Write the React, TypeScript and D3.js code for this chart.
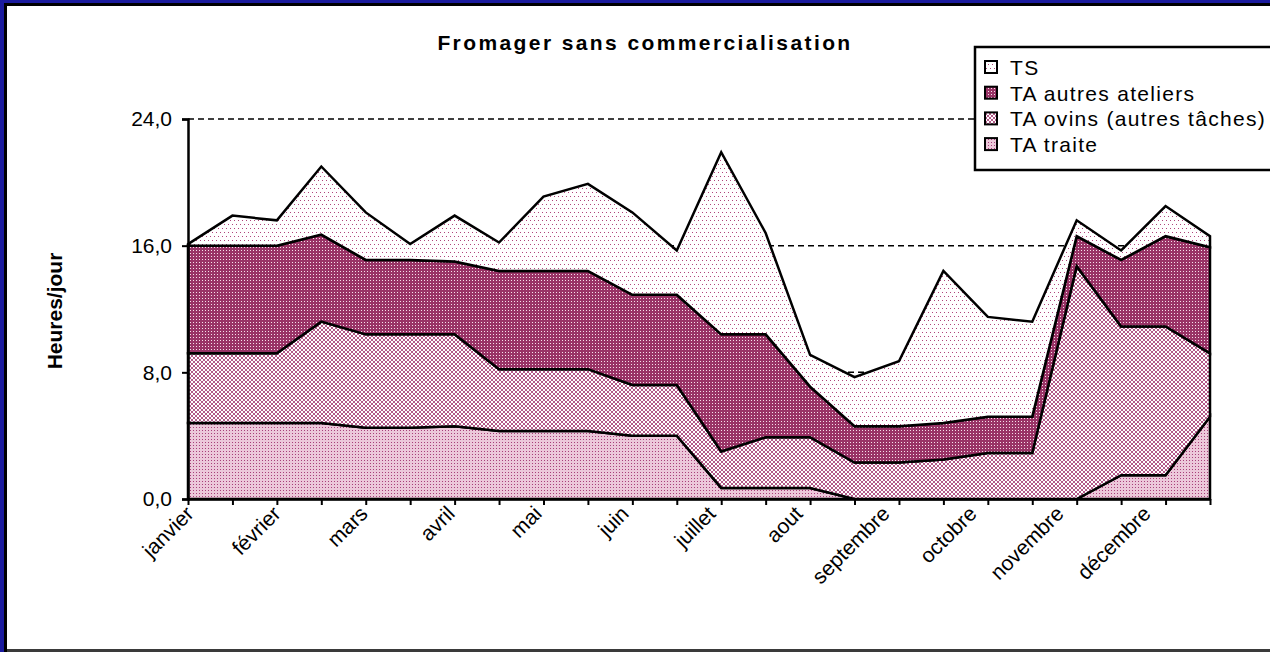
import React, { useEffect, useRef } from 'react'
import * as d3 from 'd3'

// mois affichés (un libellé tous les deux points)
const months = ['janvier', 'février', 'mars', 'avril', 'mai', 'juin', 'juillet', 'aout', 'septembre', 'octobre', 'novembre', 'décembre']
// 24 points : deux par mois
const periods = d3.range(24)

const traite = [4.8, 4.8, 4.8, 4.8, 4.5, 4.5, 4.6, 4.3, 4.3, 4.3, 4.0, 4.0, 0.7, 0.7, 0.7, 0, 0, 0, 0, 0, 0, 1.5, 1.5, 5.2]
const ovins = [4.4, 4.4, 4.4, 6.4, 5.9, 5.9, 5.8, 3.9, 3.9, 3.9, 3.2, 3.2, 2.3, 3.2, 3.2, 2.3, 2.3, 2.5, 2.9, 2.9, 14.7, 9.4, 9.4, 4.0]
const autres = [6.8, 6.8, 6.8, 5.5, 4.7, 4.7, 4.6, 6.2, 6.2, 6.2, 5.7, 5.7, 7.4, 6.5, 3.2, 2.3, 2.3, 2.3, 2.3, 2.3, 1.9, 4.2, 5.7, 6.7]
const ts = [0.1, 1.9, 1.6, 4.3, 3.0, 1.0, 2.9, 1.8, 4.7, 5.5, 5.2, 2.8, 11.5, 6.4, 2.0, 3.1, 4.1, 9.6, 6.3, 6.0, 1.0, 0.6, 1.9, 0.7]

const seriesKeys = ['traite', 'ovins', 'autres', 'ts']
const seriesNames = ['TA traite', 'TA ovins (autres tâches)', 'TA autres ateliers', 'TS']
const yTicks = [0, 8, 16, 24]
const gridTicks = [8, 16, 24]

const FONT = 'Liberation Sans, Arial, sans-serif'

export default function App() {
  const ref = useRef<SVGSVGElement>(null)

  useEffect(() => {
    const svg = d3.select(ref.current)
    svg.selectAll('*').remove()

    const W = 1270
    const H = 652

    // cadre bleu / noir
    svg.append('rect').attr('width', W).attr('height', H).attr('fill', '#1b1b9e')
    svg.append('rect').attr('x', 4).attr('y', 3).attr('width', W - 4).attr('height', H - 3).attr('fill', '#000')
    svg.append('rect').attr('x', 7).attr('y', 6).attr('width', W - 7).attr('height', H - 9).attr('fill', '#fff')
    svg.append('rect').attr('x', 7).attr('y', 649).attr('width', W - 7).attr('height', 3).attr('fill', '#3a3a3a')

    // motifs de remplissage
    const defs = svg.append('defs')
    const pat = (id, w, h, bg, dots, color) => {
      const p = defs.append('pattern').attr('id', id).attr('patternUnits', 'userSpaceOnUse')
        .attr('width', w).attr('height', h)
      p.append('rect').attr('width', w).attr('height', h).attr('fill', bg)
      dots.forEach(([dx, dy]) => {
        p.append('rect').attr('x', dx).attr('y', dy).attr('width', 1).attr('height', 1).attr('fill', color)
      })
    }
    pat('p-ts', 4, 8, '#fff', [[0, 0], [2, 4]], '#b0457c')
    pat('p-autres', 3, 3, '#993366', [[1, 1]], '#f6dfea')
    pat('p-ovins', 4, 4, '#fff', [[0, 0], [1, 1], [2, 2], [3, 3], [3, 0], [2, 1], [1, 2], [0, 3]], '#b35a89')
    pat('p-traite', 3, 3, '#ecc8da', [[1, 1]], '#a8407a')
    const fills = ['url(#p-traite)', 'url(#p-ovins)', 'url(#p-autres)', 'url(#p-ts)']

    const x = d3.scalePoint().domain(periods).range([188, 1210])
    const y = d3.scaleLinear().domain([0, 24]).range([499, 119])
    // position des libellés de mois (légèrement resserrés comme dans Excel)
    const xLab = d3.scalePoint().domain(months).range([195, 1152])

    // lignes de quadrillage pointillées
    svg.append('g').selectAll('line').data(gridTicks).enter().append('line')
      .attr('x1', 188).attr('x2', 1210)
      .attr('y1', d => y(d)).attr('y2', d => y(d))
      .attr('stroke', '#000').attr('stroke-width', 1.5).attr('stroke-dasharray', '6,4')

    // aires empilées
    const rows = periods.map(i => ({ traite: traite[i], ovins: ovins[i], autres: autres[i], ts: ts[i] }))
    const stack = d3.stack().keys(seriesKeys)(rows)
    const area = d3.area()
      .x((d, i) => x(i))
      .y0(d => y(d[0]))
      .y1(d => y(d[1]))

    svg.append('g').selectAll('path').data(stack).enter().append('path')
      .attr('d', d => area(d))
      .attr('fill', (d, i) => fills[i])
      .attr('stroke', '#000').attr('stroke-width', 2.5).attr('stroke-linejoin', 'miter')

    // axe vertical
    const yAxis = d3.axisLeft(y).tickValues(yTicks).tickSize(6).tickPadding(10)
      .tickFormat(d => d3.format('.1f')(d).replace('.', ','))
    const gy = svg.append('g').attr('transform', 'translate(188,0)').call(yAxis)
    gy.select('.domain').attr('stroke-width', 2.5)
    gy.selectAll('.tick line').attr('stroke-width', 2)
    gy.selectAll('text').attr('font-family', FONT).attr('font-size', 21).attr('fill', '#000')

    // axe horizontal
    const xAxis = d3.axisBottom(x).tickSize(6).tickSizeOuter(0).tickFormat(() => '')
    const gx = svg.append('g').attr('transform', 'translate(0,499)').call(xAxis)
    gx.select('.domain').attr('stroke-width', 2.5)
    gx.selectAll('.tick line').attr('stroke-width', 2)

    svg.append('g').selectAll('text').data(months).enter().append('text')
      .attr('transform', d => `translate(${xLab(d)},515) rotate(-45)`)
      .attr('text-anchor', 'end')
      .attr('font-family', FONT).attr('font-size', 21)
      .text(d => d)

    // titres
    svg.append('text').attr('x', 645).attr('y', 50).attr('text-anchor', 'middle')
      .attr('font-family', FONT).attr('font-size', 21).attr('font-weight', 'bold')
      .attr('letter-spacing', 2.4)
      .text('Fromager sans commercialisation')
    svg.append('text').attr('transform', 'translate(62,311) rotate(-90)').attr('text-anchor', 'middle')
      .attr('font-family', FONT).attr('font-size', 21).attr('font-weight', 'bold')
      .text('Heures/jour')

    // légende
    const lg = svg.append('g')
    lg.append('rect').attr('x', 975).attr('y', 47).attr('width', 400).attr('height', 123)
      .attr('fill', '#fff').attr('stroke', '#000').attr('stroke-width', 2.5)
    const order = [3, 2, 1, 0]
    order.forEach((s, k) => {
      const by = 75 + k * 25.7
      lg.append('rect').attr('x', 985).attr('y', by - 14).attr('width', 12).attr('height', 12)
        .attr('fill', fills[s]).attr('stroke', '#000').attr('stroke-width', 2)
      lg.append('text').attr('x', 1010).attr('y', by)
        .attr('font-family', FONT).attr('font-size', 21).attr('letter-spacing', 1.3)
        .text(seriesNames[s])
    })
  }, [])

  return (
    <svg ref={ref} width={1270} height={652}
      style={{ position: 'absolute', left: 0, top: 0, display: 'block' }} />
  )
}
